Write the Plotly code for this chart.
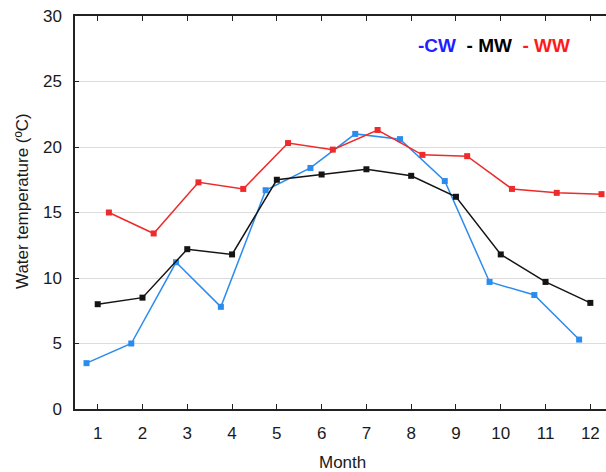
import plotly.graph_objects as go

months = [1, 2, 3, 4, 5, 6, 7, 8, 9, 10, 11, 12]
cw = [3.5, 5.0, 11.2, 7.8, 16.7, 18.4, 21.0, 20.6, 17.4, 9.7, 8.7, 5.3]
mw = [8.0, 8.5, 12.2, 11.8, 17.5, 17.9, 18.3, 17.8, 16.2, 11.8, 9.7, 8.1]
ww = [15.0, 13.4, 17.3, 16.8, 20.3, 19.8, 21.3, 19.4, 19.3, 16.8, 16.5, 16.4]
offset = 0.25

y_ticks = [0, 5, 10, 15, 20, 25, 30]

FONT = "Liberation Sans, Arial, sans-serif"

fig = go.Figure()
series = [
    ("CW", [m - offset for m in months], cw, "#2b8cee"),
    ("MW", months, mw, "#141414"),
    ("WW", [m + offset for m in months], ww, "#ee2a2a"),
]
for name, xs, ys, col in series:
    fig.add_trace(go.Scatter(
        x=xs, y=ys, name=name, mode="lines+markers",
        line=dict(color=col, width=1.5),
        marker=dict(symbol="square", size=6, color=col),
        showlegend=False, cliponaxis=False,
    ))

fig.update_layout(
    width=606, height=472,
    margin=dict(l=75, r=0, t=16, b=63),
    paper_bgcolor="white", plot_bgcolor="white",
    font=dict(family=FONT, size=17, color="#1a1a1a"),
    xaxis=dict(
        range=[0.493, 12.35], tickvals=months, ticktext=[str(m) for m in months],
        showgrid=False, zeroline=False,
        showline=True, linecolor="#222", linewidth=1.5, mirror="ticks",
        ticks="inside", ticklen=5, tickwidth=1.3, tickcolor="#222",
        ticklabelstandoff=8,
    ),
    yaxis=dict(
        range=[0, 30], tickvals=y_ticks,
        showgrid=True, gridcolor="#dcdcdc", gridwidth=1.2, zeroline=False,
        showline=True, linecolor="#222", linewidth=1.5, mirror=False,
        ticks="inside", ticklen=4, tickwidth=1.3, tickcolor="#222",
        ticklabelstandoff=8,
    ),
)

fig.add_annotation(
    text="Water temperature (ºC)", xref="paper", yref="paper",
    x=-75/531 + 22/531, y=(409-201)/393, xanchor="center", yanchor="middle",
    textangle=-90, showarrow=False, font=dict(size=17, family=FONT, color="#1a1a1a"),
)
fig.add_annotation(
    text="Month", xref="paper", yref="paper",
    x=(342-75)/531, y=-(462-409)/393, xanchor="center", yanchor="middle",
    showarrow=False, font=dict(size=17, family=FONT, color="#1a1a1a"),
)
fig.add_annotation(
    text=("<b><span style='color:#1f1fff'>-CW</span>  "
          "<span style='color:#000000'>- MW</span>  "
          "<span style='color:#ff1a1a'>- WW</span></b>"),
    xref="paper", yref="paper",
    x=(416-75)/531, y=(409-45)/393, xanchor="left", yanchor="middle",
    showarrow=False, font=dict(size=19, family=FONT),
)

fig.write_html(
    "out.html",
    config={"displayModeBar": False},
    post_script="document.body.style.margin='0';document.body.style.padding='0';",
)
